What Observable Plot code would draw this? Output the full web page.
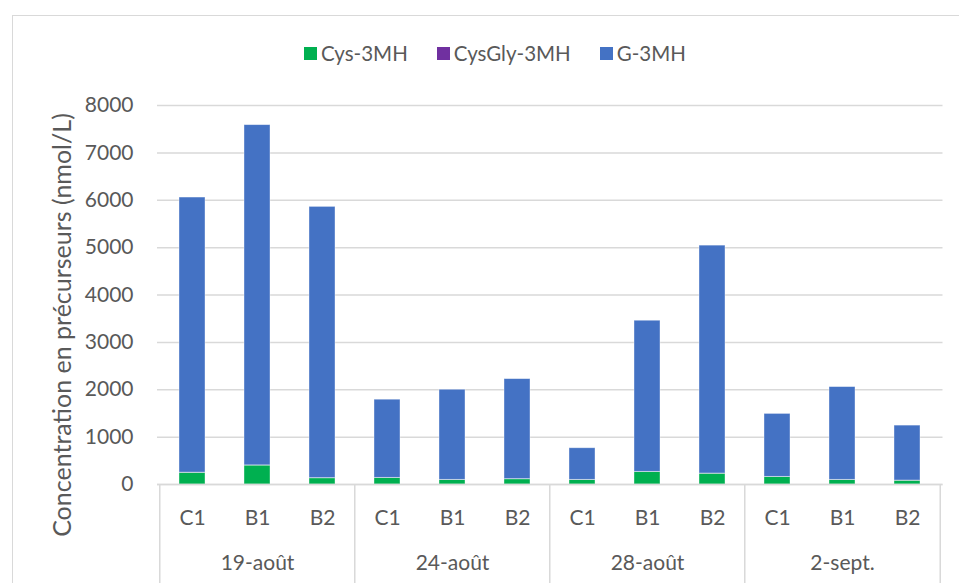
<!DOCTYPE html>
<html>
<head>
<meta charset="utf-8">
<script src="https://cdn.jsdelivr.net/npm/d3@7"></script>
<script src="https://cdn.jsdelivr.net/npm/@observablehq/plot@0.6"></script>
<style>
  body { margin: 0; background: #fff; font-family: Lato, "Open Sans", sans-serif; }
  #wrap { position: relative; width: 959px; height: 583px; overflow: hidden; background: #fff; }
  #frame { position: absolute; left: 12px; top: 15px; width: 960px; height: 600px; border: 1.5px solid #d9d9d9; box-sizing: border-box; }
  #legend { position: absolute; top: 40px; left: 304px; display: flex; align-items: center; font-size: 20.5px; color: #595959; height: 26px; }
  .item { display: flex; align-items: center; margin-right: 29px; }
  .sw { width: 13px; height: 13px; margin-right: 4px; }
  #chart { position: absolute; top: 80px; left: 0; }
</style>
</head>
<body>
<div id="wrap">
  <div id="frame"></div>
  <div id="legend"></div>
  <div id="chart"></div>
</div>
<script>
// ---- data ----
const dates = ["19-août", "24-août", "28-août", "2-sept."];
const samples = ["C1", "B1", "B2"];
const seriesNames = ["Cys-3MH", "CysGly-3MH", "G-3MH"];
const seriesColors = ["#00b050", "#7030a0", "#4472c4"];
// values in bar order: 19-août C1,B1,B2, 24-août C1,B1,B2, 28-août C1,B1,B2, 2-sept. C1,B1,B2
const cys3mh    = [247, 400, 131, 137, 95, 110, 95, 264, 228, 158, 95, 80];
const cysgly3mh = [4, 4, 4, 4, 4, 4, 4, 4, 4, 4, 4, 4];
const g3mh      = [5806, 7181, 5725, 1649, 1901, 2110, 666, 3189, 4810, 1328, 1957, 1159];
const yTicks = [0, 1000, 2000, 3000, 4000, 5000, 6000, 7000, 8000];
const yLabel = "Concentration en précurseurs (nmol/L)";

// ---- build table ----
const keys = [];
dates.forEach(d => samples.forEach(s => keys.push(d + "|" + s)));
const seriesValues = [cys3mh, cysgly3mh, g3mh];
const rows = [];
keys.forEach((k, i) => {
  seriesNames.forEach((name, j) => {
    rows.push({key: k, series: name, value: seriesValues[j][i]});
  });
});

// ---- legend ----
const legend = document.getElementById("legend");
seriesNames.forEach((name, i) => {
  const it = document.createElement("div");
  it.className = "item";
  const sw = document.createElement("div");
  sw.className = "sw";
  sw.style.background = seriesColors[i];
  const tx = document.createElement("span");
  tx.textContent = name;
  it.appendChild(sw); it.appendChild(tx);
  legend.appendChild(it);
});

// ---- chart ----
const W = 959, H = 503, mL = 157, mR = 16.5, mT = 25, mB = 99;
const step = (W - mL - mR) / keys.length;
const plotH = H - mT - mB;
const textColor = "#595959";
const gridColor = "#d9d9d9";

const chart = Plot.plot({
  width: W,
  height: H,
  marginLeft: mL,
  marginRight: mR,
  marginTop: mT,
  marginBottom: mB,
  style: {fontFamily: "Lato, 'Open Sans', sans-serif", color: textColor, background: "transparent", overflow: "visible"},
  x: {domain: keys, paddingInner: 0.6, paddingOuter: 0.3, axis: null},
  y: {domain: [0, 8000], axis: null},
  color: {domain: seriesNames, range: seriesColors},
  marks: [
    Plot.gridY(yTicks, {stroke: gridColor, strokeOpacity: 1, strokeWidth: 1.5}),
    Plot.axisY(yTicks, {tickSize: 0, tickPadding: 24, fontSize: 21, fill: textColor, label: null, tickFormat: d => String(d)}),
    Plot.barY(rows, {x: "key", y: "value", fill: "series", stroke: "#ffffff", strokeWidth: 0.75, strokeOpacity: 0.5}),
    Plot.ruleY([0], {stroke: gridColor, strokeWidth: 1.5}),
    Plot.axisX({tickSize: 0, tickPadding: 26, fontSize: 21, fill: textColor, label: null, tickFormat: k => k.split("|")[1]}),
    Plot.text(dates, {x: d => d + "|B1", text: d => d, frameAnchor: "bottom", dy: 85, fontSize: 21, fill: textColor}),
    Plot.ruleX(dates, {x: d => d + "|C1", dx: -step / 2, insetTop: plotH, insetBottom: -mB, stroke: gridColor, strokeWidth: 1.5}),
    Plot.ruleX([dates[dates.length - 1] + "|B2"], {x: d => d, dx: step / 2, insetTop: plotH, insetBottom: -mB, stroke: gridColor, strokeWidth: 1.5}),
    Plot.text([yLabel], {text: d => d, frameAnchor: "left", textAnchor: "middle", rotate: -90, dx: -95, dy: 30, fontSize: 25, fill: textColor})
  ]
});
document.getElementById("chart").appendChild(chart);
</script>
</body>
</html>
